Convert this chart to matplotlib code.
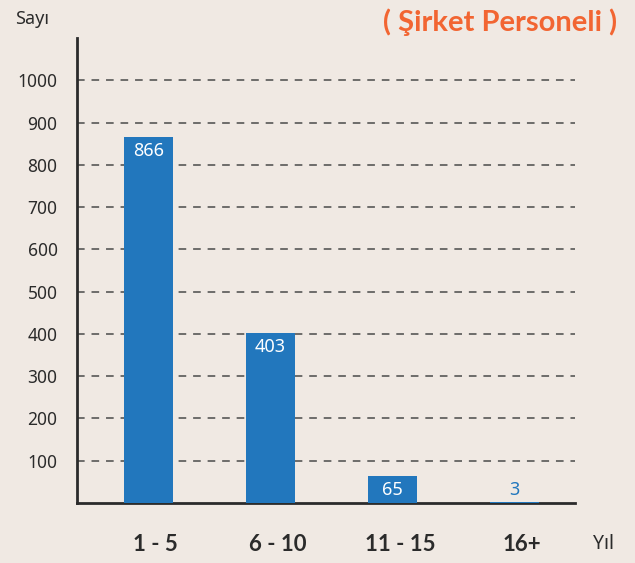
import numpy as np
import matplotlib.pyplot as plt

# veri
kategoriler = ['1 - 5', '6 - 10', '11 - 15', '16+']
sayilar = [866, 403, 65, 3]
y_ticks = [100, 200, 300, 400, 500, 600, 700, 800, 900, 1000]

arka = '#f0e9e3'
mavi = '#2277bd'
turuncu = '#f26532'
koyu = '#2b2b2b'

plt.rcParams['font.family'] = ['Noto Sans', 'DejaVu Sans']

fig = plt.figure(figsize=(6.35, 5.63), dpi=100, facecolor=arka)
ax = fig.add_axes([77 / 635, 60 / 563, 498 / 635, 465 / 563])
ax.set_facecolor(arka)

x = np.arange(len(kategoriler))
bars = ax.bar(x, sayilar, width=0.395, color=mavi, zorder=3)

# grid
for v in y_ticks:
    ax.axhline(v, color='#4a4a4a', lw=1.1, ls=(0, (5, 4.5)), zorder=1)

ax.set_xlim(-0.586, 3.496)
ax.set_ylim(0, 1100)

ax.set_yticks(y_ticks)
ax.set_yticklabels([str(v) for v in y_ticks], fontsize=12.5, color=koyu)
ax.tick_params(axis='y', length=0, pad=14)

ax.set_xticks(x + 0.06)
ax.set_xticklabels(kategoriler, fontsize=16, fontweight='bold', color=koyu,
                   family=['Lato', 'DejaVu Sans'])
ax.tick_params(axis='x', length=0, pad=22)

for s in ['top', 'right']:
    ax.spines[s].set_visible(False)
ax.spines['left'].set_linewidth(2)
ax.spines['left'].set_color(koyu)
ax.spines['bottom'].set_linewidth(2)
ax.spines['bottom'].set_color(koyu)

# bar etiketleri
for xi, v in zip(x, sayilar):
    if v > 30:
        ax.annotate(str(v), (xi, v), xytext=(0, -4), textcoords='offset points',
                    ha='center', va='top', color='white', fontsize=13, zorder=4)
    else:
        ax.annotate(str(v), (xi, v), xytext=(0, 2), textcoords='offset points',
                    ha='center', va='bottom', color=mavi, fontsize=13, zorder=4)

fig.text(15 / 635, 1 - 19 / 563, 'Sayı', fontsize=13, color=koyu, va='center')
fig.text(593 / 635, 1 - 544 / 563, 'Yıl', fontsize=14, color=koyu, va='center')
fig.text(617 / 635, 1 - 22 / 563, '( Şirket Personeli )', fontsize=21,
         color=turuncu, ha='right', va='center', fontweight='bold',
         family=['Lato', 'DejaVu Sans'])

fig.savefig('out.png', dpi=100, facecolor=arka)
